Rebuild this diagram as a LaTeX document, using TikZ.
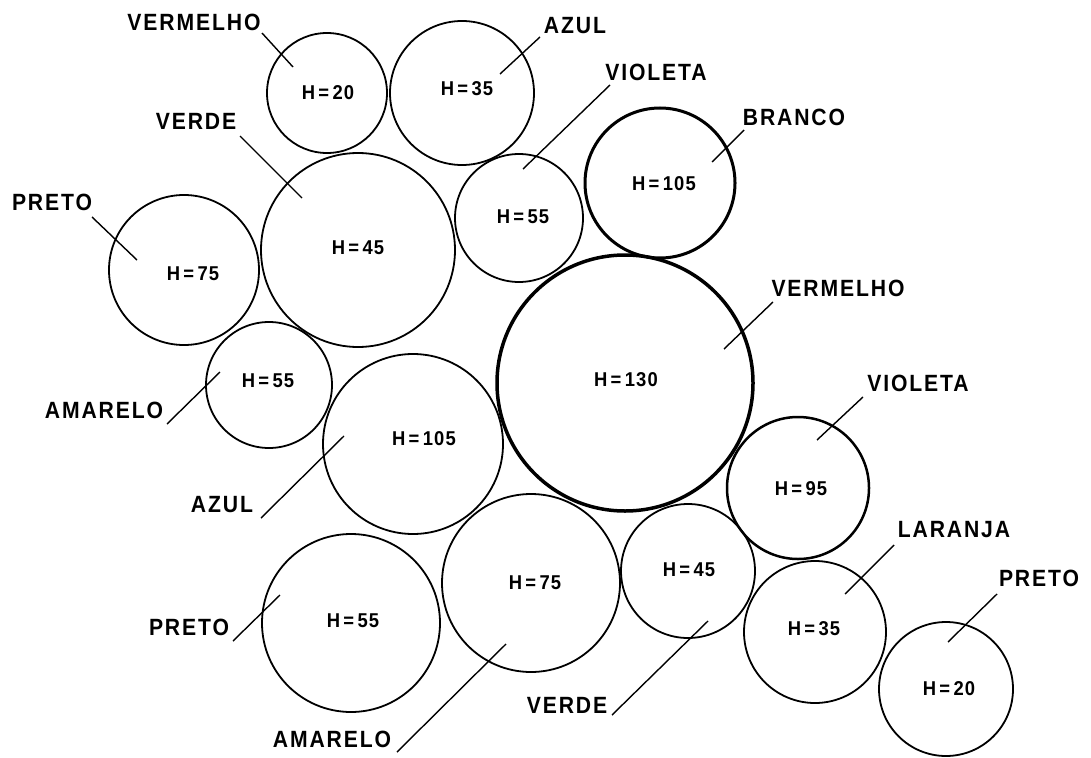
\documentclass[tikz,border=0pt]{standalone}
\usepackage{fontspec}
\setmainfont{Liberation Sans}
\newfontfamily\lblfam[LetterSpace=8,FakeStretch=0.9]{Liberation Sans}
\newfontfamily\hfam[LetterSpace=6,FakeStretch=0.92]{Liberation Sans}
\begin{document}
\begin{tikzpicture}[x=1pt,y=-1pt,
  ring/.style={circle,draw,line width=1.8pt,inner sep=0pt,minimum size=#1},
  hval/.style={inner sep=0pt,font=\hfam\bfseries\fontsize{20}{22}\selectfont},
  lbl/.style={inner sep=0pt,font=\lblfam\bfseries\fontsize{23.5}{26}\selectfont},
  leader/.style={line width=1.4pt}]
\useasboundingbox (0,0) rectangle (1091,757);
% circles
\node[ring=120pt] (c1) at (327,93) {};
\node[ring=144pt] (c2) at (462,93) {};
\node[ring=128pt] (c3) at (519,218) {};
\node[ring=150pt,line width=3pt] (c4) at (660,183) {};
\node[ring=194pt] (c5) at (358,250) {};
\node[ring=150pt] (c6) at (184,270) {};
\node[ring=256pt,line width=3.5pt] (c7) at (625,383) {};
\node[ring=126pt] (c8) at (269,385) {};
\node[ring=142pt,line width=2.5pt] (c9) at (798,488) {};
\node[ring=180pt] (c10) at (413,444) {};
\node[ring=142pt] (c11) at (815,632) {};
\node[ring=178pt] (c12) at (351,623) {};
\node[ring=134pt] (c13) at (946,689) {};
\node[ring=134pt] (c14) at (688,571) {};
\node[ring=178pt] (c15) at (531,583) {};
% values
\node[hval] (t1) at (328,93) {H\,=\,20};
\node[hval] (t2) at (467,89) {H\,=\,35};
\node[hval] (t3) at (523,217) {H\,=\,55};
\node[hval] (t4) at (664,184) {H\,=\,105};
\node[hval] (t5) at (358,248) {H\,=\,45};
\node[hval] (t6) at (193,274) {H\,=\,75};
\node[hval] (t7) at (626,380) {H\,=\,130};
\node[hval] (t8) at (268,381) {H\,=\,55};
\node[hval] (t9) at (801,489) {H\,=\,95};
\node[hval] (t10) at (424,439) {H\,=\,105};
\node[hval] (t11) at (814,629) {H\,=\,35};
\node[hval] (t12) at (353,621) {H\,=\,55};
\node[hval] (t13) at (949,689) {H\,=\,20};
\node[hval] (t14) at (689,570) {H\,=\,45};
\node[hval] (t15) at (535,583) {H\,=\,75};
% labels
\node[lbl] (l1) at (194,22) {VERMELHO};
\node[lbl] (l2) at (575,26) {AZUL};
\node[lbl] (l3) at (656,72) {VIOLETA};
\node[lbl] (l4) at (794,117) {BRANCO};
\node[lbl] (l5) at (196,121) {VERDE};
\node[lbl] (l6) at (52,202) {PRETO};
\node[lbl] (l7) at (838,288) {VERMELHO};
\node[lbl] (l8) at (104,410) {AMARELO};
\node[lbl] (l9) at (918,383) {VIOLETA};
\node[lbl] (l10) at (222,505) {AZUL};
\node[lbl] (l11) at (954,530) {LARANJA};
\node[lbl] (l12) at (189,627) {PRETO};
\node[lbl] (l13) at (1039,578) {PRETO};
\node[lbl] (l14) at (567,705) {VERDE};
\node[lbl] (l15) at (332,739) {AMARELO};
% leader endpoints
\coordinate (a1) at (262,33);  \coordinate (b1) at (293,67);
\coordinate (a2) at (540,37);  \coordinate (b2) at (500,74);
\coordinate (a3) at (610,85);  \coordinate (b3) at (523,169);
\coordinate (a4) at (744,130); \coordinate (b4) at (712,162);
\coordinate (a5) at (240,136); \coordinate (b5) at (302,198);
\coordinate (a6) at (92,217);  \coordinate (b6) at (137,260);
\coordinate (a7) at (773,302); \coordinate (b7) at (724,349);
\coordinate (a8) at (167,424); \coordinate (b8) at (220,372);
\coordinate (a9) at (863,397); \coordinate (b9) at (817,440);
\coordinate (a10) at (261,518); \coordinate (b10) at (344,436);
\coordinate (a11) at (894,545); \coordinate (b11) at (845,594);
\coordinate (a12) at (233,641); \coordinate (b12) at (280,595);
\coordinate (a13) at (997,594); \coordinate (b13) at (948,642);
\coordinate (a14) at (612,715); \coordinate (b14) at (708,621);
\coordinate (a15) at (397,752); \coordinate (b15) at (506,644);
\foreach \i in {1,...,15} { \draw[leader] (a\i) -- (b\i); }
\end{tikzpicture}
\end{document}
